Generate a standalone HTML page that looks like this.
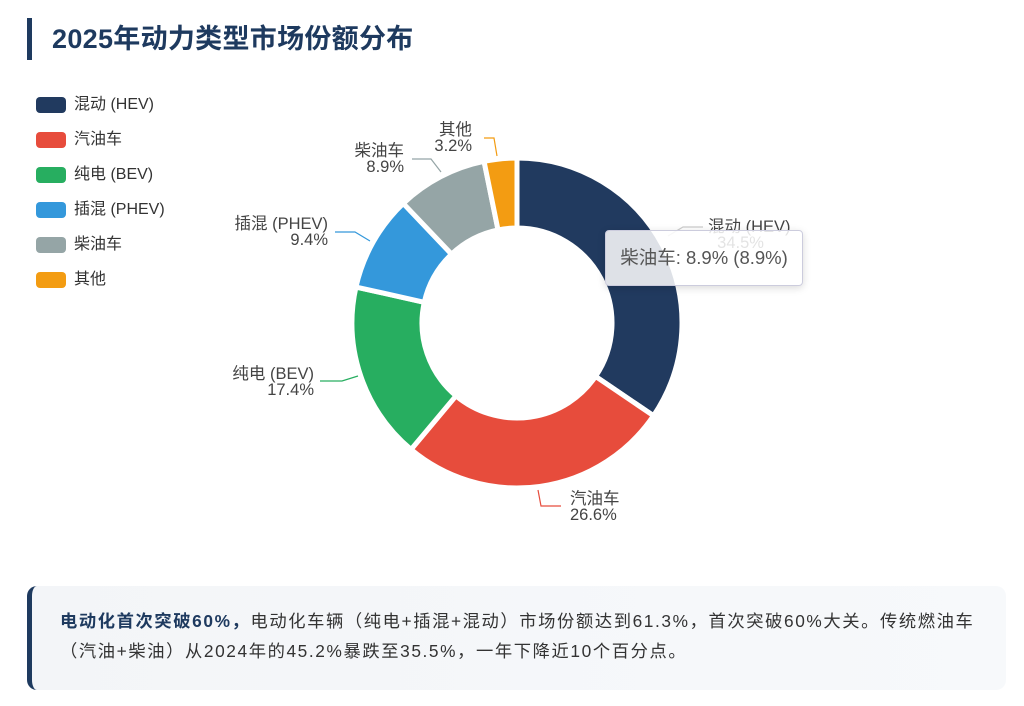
<!DOCTYPE html>
<html><head><meta charset="utf-8"><style>
body{margin:0;width:1024px;height:706px;background:#fff;font-family:"Liberation Sans","Noto Sans CJK SC",sans-serif;position:relative;overflow:hidden}
.title{position:absolute;left:27px;top:18px;height:42px;border-left:5px solid #1e3a5f;padding-left:20px;font-size:27px;font-weight:bold;color:#1e3a5f;line-height:42px;letter-spacing:0.3px}
.leg{position:absolute;left:36px;font-size:16px;color:#333;line-height:18px}
.leg i{display:inline-block;width:30px;height:16px;border-radius:4px;vertical-align:middle;margin-right:8px}
.lbl{position:absolute;font-size:16.5px;color:#444;line-height:16px;text-align:right}
.box{position:absolute;left:27px;top:586px;width:979px;height:104px;border-left:5px solid #1e3a5f;border-radius:10px;background:linear-gradient(90deg,#f3f5f8,#f7f9fb);box-sizing:border-box;padding:20px 0 0 28px;font-size:17.3px;letter-spacing:1.6px;color:#333;line-height:30px;white-space:nowrap}
.tip{position:absolute;left:605px;top:230px;width:196px;height:54px;border:1px solid #ccd;border-radius:4px;background:rgba(255,255,255,0.85);box-shadow:0 2px 8px rgba(0,0,0,0.15);font-size:18.5px;color:#555;line-height:54px;text-align:center;white-space:nowrap}
</style></head><body>
<div class="title">2025年动力类型市场份额分布</div>
<div class="leg" style="top:96px"><i style="background:#213a5f"></i>混动 (HEV)</div>
<div class="leg" style="top:131px"><i style="background:#e74c3c"></i>汽油车</div>
<div class="leg" style="top:166px"><i style="background:#27ae60"></i>纯电 (BEV)</div>
<div class="leg" style="top:201px"><i style="background:#3498db"></i>插混 (PHEV)</div>
<div class="leg" style="top:236px"><i style="background:#95a5a6"></i>柴油车</div>
<div class="leg" style="top:271px"><i style="background:#f39c12"></i>其他</div>
<svg id="s" width="1024" height="706" style="position:absolute;left:0;top:0">
<g fill="none" stroke-width="1.2">
<polyline points="484,138 494,138 497,156" stroke="#f39c12"/>
<polyline points="412,159 431,159 441,172" stroke="#95a5a6"/>
<polyline points="335,232 355,232 370,241" stroke="#3498db"/>
<polyline points="320,381 342,381 358,376" stroke="#27ae60"/>
<polyline points="561,506 541,506 538,490" stroke="#e74c3c"/>
<polyline points="703,227 683,227 668,236" stroke="#ccc"/>
</g>
</svg>
<div class="lbl" style="left:410px;top:122px;width:62px">其他<br>3.2%</div>
<div class="lbl" style="left:330px;top:143px;width:74px">柴油车<br>8.9%</div>
<div class="lbl" style="left:200px;top:216px;width:128px">插混 (PHEV)<br>9.4%</div>
<div class="lbl" style="left:200px;top:366px;width:114px">纯电 (BEV)<br>17.4%</div>
<div class="lbl" style="left:570px;top:491px;text-align:left">汽油车<br>26.6%</div>
<div class="lbl" style="left:708px;top:219px;text-align:left;color:#444">混动 (HEV)<br>&nbsp;&nbsp;34.5%</div>
<div class="tip">柴油车: 8.9% (8.9%)</div>
<div class="box"><b style="color:#1e3a5f">电动化首次突破60%，</b>电动化车辆（纯电+插混+混动）市场份额达到61.3%，首次突破60%大关。传统燃油车<br>（汽油+柴油）从2024年的45.2%暴跌至35.5%，一年下降近10个百分点。</div>
<script>
var d=[[34.5,"#213a5f"],[26.6,"#e74c3c"],[17.4,"#27ae60"],[9.4,"#3498db"],[8.9,"#95a5a6"],[3.2,"#f39c12"]];
var cx=517,cy=323,R=165,r=95,a=0,s=document.getElementById('s'),g=s.firstElementChild;
function p(rad,ang){return [cx+rad*Math.sin(ang),cy-rad*Math.cos(ang)];}
d.forEach(function(e){var a0=a,a1=a+e[0]/100*2*Math.PI;a=a1;
var o0=p(R,a0),o1=p(R,a1),i1=p(r,a1),i0=p(r,a0),L=(a1-a0)>Math.PI?1:0;
var el=document.createElementNS("http://www.w3.org/2000/svg","path");
el.setAttribute("d","M"+o0+"A"+R+","+R+" 0 "+L+" 1 "+o1+"L"+i1+"A"+r+","+r+" 0 "+L+" 0 "+i0+"Z");
el.setAttribute("fill",e[1]);el.setAttribute("stroke","#fff");el.setAttribute("stroke-width","5");el.setAttribute("stroke-linejoin","round");
s.insertBefore(el,g);});
</script>
</body></html>
